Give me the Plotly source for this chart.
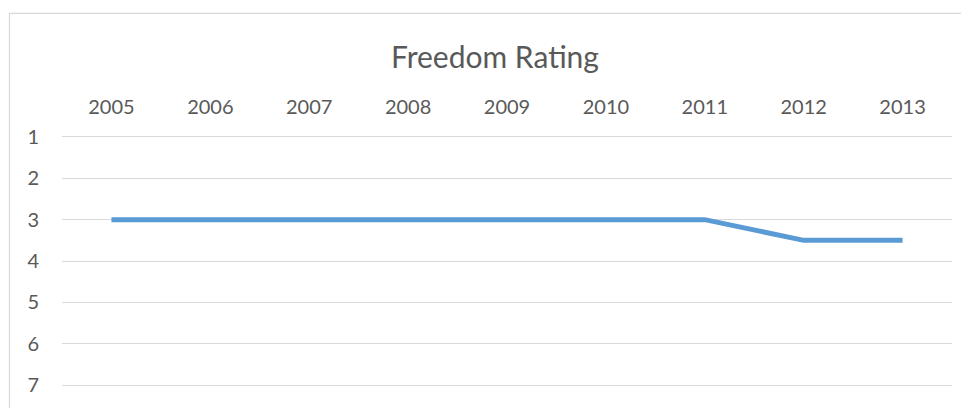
import plotly.graph_objects as go

years = ["2005", "2006", "2007", "2008", "2009", "2010", "2011", "2012", "2013"]
freedom_rating = [3, 3, 3, 3, 3, 3, 3, 3.5, 3.5]
y_ticks = [1, 2, 3, 4, 5, 6, 7]

# page has an 8px body margin, so the figure is drawn 8px smaller and offset
W, H = 961, 400
L, R, T, B = 54, 17, 127, 19
pw = W - L - R
ph = H - T - B
ext = 2 / ((ph - 4) / 6)  # 2px of range padding so the edge gridlines show

fig = go.Figure()
fig.add_trace(go.Scatter(
    x=years, y=freedom_rating, mode="lines",
    line=dict(color="#5B9BD5", width=5, shape="linear"),
    hoverinfo="x+y", showlegend=False,
))

font_family = "Lato, 'Open Sans', sans-serif"
fig.update_layout(
    width=W, height=H,
    margin=dict(l=L, r=R, t=T, b=B, pad=0),
    paper_bgcolor="white", plot_bgcolor="white",
    font=dict(family=font_family, color="#595959", size=20),
    title=dict(text="Freedom Rating", x=487 / W, xanchor="center",
               y=1 - 49 / H, yanchor="middle",
               font=dict(size=30, color="#595959", family=font_family)),
    xaxis=dict(type="category", side="top", range=[-0.5, 8.5],
               showgrid=False, showline=False, zeroline=False,
               ticks="", ticklabelstandoff=16,
               tickfont=dict(size=20, color="#595959")),
    yaxis=dict(range=[7 + ext, 1 - ext], tickvals=y_ticks,
               ticktext=[str(v) for v in y_ticks],
               showgrid=True, gridcolor="#D9D9D9", gridwidth=1.3,
               zeroline=False, showline=False, ticks="",
               ticklabelstandoff=22,
               tickfont=dict(size=20, color="#595959")),
)

# chart border (Excel chart area outline); right and bottom edges lie outside the view
x0 = (1.5 - L) / pw
x1 = (970 - L) / pw
y1 = (H - B - 4.5) / ph
fig.add_shape(type="rect", xref="paper", yref="paper",
              x0=x0, x1=x1, y0=-0.3, y1=y1,
              line=dict(color="#D9D9D9", width=1.2), fillcolor="rgba(0,0,0,0)",
              layer="below")

fig.write_html("out.html")
